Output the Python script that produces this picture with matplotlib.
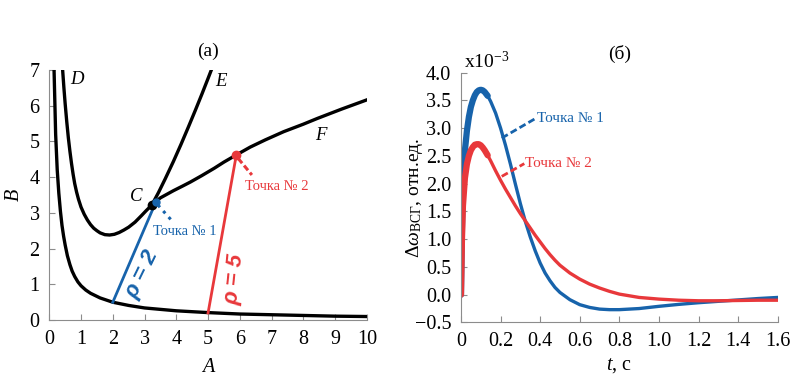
import numpy as np
import matplotlib
matplotlib.use("Agg")
import matplotlib.pyplot as plt

plt.rcParams['font.family'] = ['Liberation Serif', 'DejaVu Serif']
plt.rcParams['mathtext.fontset'] = 'custom'
plt.rcParams['mathtext.rm'] = 'Liberation Serif'
plt.rcParams['mathtext.it'] = 'Liberation Serif:italic'
plt.rcParams['font.size'] = 10.5

BLUE = '#1763ab'
RED = '#e8383b'
GREY = '#8c8c8c'

# === Panel (a): stability map in (A, B) ===
# lower curve (hyperbola)
A_low = [0.15, 0.2, 0.25, 0.3, 0.35, 0.4, 0.45, 0.5, 0.57, 0.65, 0.72, 0.8, 0.9, 1.0,
         1.15, 1.3, 1.6, 2.0, 2.5, 3.0, 4.0, 5.0, 6.0, 7.0, 8.0, 9.0, 10.0]
B_low = [7.0, 5.2, 4.2, 3.55, 3.05, 2.65, 2.35, 2.1, 1.8, 1.55, 1.37, 1.22, 1.07, 0.96,
         0.84, 0.75, 0.62, 0.5, 0.41, 0.34, 0.26, 0.21, 0.17, 0.15, 0.13, 0.11, 0.10]
# curve D -> C -> E
A_de = [0.42, 0.46, 0.5, 0.55, 0.6, 0.65, 0.7, 0.75, 0.8, 0.86, 0.92, 1.0, 1.1, 1.2, 1.3,
        1.4, 1.5, 1.6, 1.75, 1.9, 2.05, 2.2, 2.35, 2.5, 2.7, 2.9, 3.05, 3.23, 3.44,
        3.65, 3.91, 4.15, 4.38, 4.6, 4.81, 5.0, 5.1]
B_de = [7.0, 6.5, 6.05, 5.55, 5.1, 4.72, 4.38, 4.08, 3.82, 3.58, 3.38, 3.16, 2.96, 2.8, 2.67,
        2.57, 2.5, 2.44, 2.39, 2.38, 2.4, 2.45, 2.52, 2.6, 2.74, 2.92, 3.06, 3.22, 3.57,
        3.95, 4.44, 4.92, 5.40, 5.87, 6.33, 6.76, 6.99]
# curve C -> F
A_f = [3.23, 3.5, 3.91, 4.2, 4.44, 4.8, 5.2, 5.5, 5.89, 6.33, 6.8, 7.38, 8.0, 8.44, 9.2, 10.0]
B_f = [3.22, 3.42, 3.62, 3.75, 3.86, 4.04, 4.25, 4.42, 4.62, 4.84, 5.04, 5.27, 5.48, 5.64, 5.9, 6.16]

# rays rho = 2 and rho = 5
rho2_A = [2.0, 3.35]
rho2_B = [0.5, 3.29]
rho5_A = [5.0, 5.89]
rho5_B = [0.2, 4.62]
point_C = (3.23, 3.22)

# === Panel (б): time responses, x10^-3 ===
t = [0, 0.005, 0.01, 0.02, 0.03, 0.04, 0.05, 0.06, 0.07, 0.08, 0.09, 0.1, 0.11, 0.12,
     0.135, 0.15, 0.175, 0.2, 0.225, 0.25, 0.275, 0.3, 0.325, 0.35, 0.375, 0.4, 0.425,
     0.45, 0.475, 0.5, 0.55, 0.6, 0.65, 0.7, 0.75, 0.8, 0.9, 1.0, 1.1, 1.2, 1.3, 1.4,
     1.5, 1.6]
dw_p1 = [0, 1.2, 2.0, 2.6, 2.95, 3.2, 3.38, 3.5, 3.59, 3.65, 3.68, 3.69, 3.68, 3.65,
         3.58, 3.48, 3.27, 3.0, 2.69, 2.35, 1.99, 1.64, 1.32, 1.04, 0.79, 0.57, 0.39,
         0.25, 0.13, 0.04, -0.09, -0.18, -0.23, -0.26, -0.27, -0.27, -0.25, -0.21, -0.175,
         -0.145, -0.12, -0.095, -0.07, -0.05]
dw_p2 = [0, 1.0, 1.6, 2.1, 2.35, 2.5, 2.6, 2.66, 2.7, 2.71, 2.71, 2.69, 2.65, 2.6,
         2.51, 2.41, 2.23, 2.06, 1.9, 1.75, 1.6, 1.46, 1.33, 1.2, 1.07, 0.95, 0.83,
         0.72, 0.62, 0.53, 0.39, 0.28, 0.19, 0.12, 0.06, 0.01, -0.05, -0.08, -0.1,
         -0.11, -0.11, -0.105, -0.1, -0.1]
n_thick = 15  # early part of the response is drawn thicker

fig = plt.figure(figsize=(8.08, 3.88), dpi=100)
ax1 = fig.add_axes([0.061, 0.175, 0.393, 0.645])
ax2 = fig.add_axes([0.5705, 0.169, 0.392, 0.644])

for ax in (ax1, ax2):
    for s in ('top', 'right'):
        ax.spines[s].set_visible(False)
    for s in ('left', 'bottom'):
        ax.spines[s].set_color(GREY)
        ax.spines[s].set_linewidth(0.8)
    ax.tick_params(direction='in', length=4, color=GREY, labelsize=14.5, pad=7)

# --- panel (a)
ax1.plot(A_low, B_low, color='black', lw=2.4)
ax1.plot(A_de, B_de, color='black', lw=2.4)
ax1.plot(A_f, B_f, color='black', lw=2.4)
ax1.plot(rho2_A, rho2_B, color=BLUE, lw=2.0)
ax1.plot(rho5_A, rho5_B, color=RED, lw=2.0)
ax1.plot(*point_C, 'o', color='black', ms=6, zorder=5)
ax1.plot(rho2_A[1], rho2_B[1], 'o', color=BLUE, ms=5, zorder=6)
ax1.plot(rho5_A[1], rho5_B[1], 'o', color=RED, ms=6, zorder=6)
ax1.plot([3.42, 3.92], [3.22, 2.72], ls=':', color=BLUE, lw=2.2)
ax1.plot([5.95, 6.38], [4.52, 4.06], ls='--', color=RED, lw=2.2, dashes=(2, 1))

ax1.text(3.28, 2.47, 'Точка № 1', color=BLUE, fontsize=10.5, va='center')
ax1.text(6.17, 3.73, 'Точка № 2', color=RED, fontsize=10.5, va='center')
ax1.text(2.92, 1.28, 'ρ = 2', color=BLUE, fontsize=16, fontweight='bold', fontstyle='italic',
         family='Liberation Sans', rotation=64, ha='center', va='center')
ax1.text(5.85, 1.15, 'ρ = 5', color=RED, fontsize=16, fontweight='bold', fontstyle='italic',
         family='Liberation Sans', rotation=84, ha='center', va='center')
ax1.text(2.75, 3.45, 'C', fontsize=13.5, fontstyle='italic', ha='center', va='center')
ax1.text(0.88, 6.72, 'D', fontsize=13.5, fontstyle='italic', ha='center', va='center')
ax1.text(5.42, 6.67, 'E', fontsize=13.5, fontstyle='italic', ha='center', va='center')
ax1.text(8.55, 5.15, 'F', fontsize=13.5, fontstyle='italic', ha='center', va='center')

ax1.set_xlim(0, 10)
ax1.set_ylim(0, 7)
ax1.set_xticks(range(0, 11))
ax1.set_yticks(range(0, 8))
ax1.set_xlabel('A', fontsize=14.5, fontstyle='italic')
ax1.set_ylabel('B', fontsize=14.5, fontstyle='italic')
ax1.xaxis.set_label_coords(0.5, -0.15)
ax1.yaxis.set_label_coords(-0.08, 0.5)
ax1.set_title('(а)', fontsize=14, pad=10)

# --- panel (б)
ax2.plot(t, dw_p1, color=BLUE, lw=2.4)
ax2.plot(t[:n_thick], dw_p1[:n_thick], color=BLUE, lw=4.5, solid_capstyle='round')
ax2.plot(t, dw_p2, color=RED, lw=2.4)
ax2.plot(t[:n_thick], dw_p2[:n_thick], color=RED, lw=4.5, solid_capstyle='round')
ax2.plot([0.206, 0.375], [2.82, 3.17], ls='--', color=BLUE, lw=2.0, dashes=(2.5, 1.2))
ax2.plot([0.206, 0.32], [2.13, 2.36], ls='--', color=RED, lw=2.0, dashes=(2.5, 1.2))
ax2.text(0.383, 3.17, 'Точка № 1', color=BLUE, fontsize=11, va='center')
ax2.text(0.323, 2.36, 'Точка № 2', color=RED, fontsize=11, va='center')

ax2.set_xlim(0, 1.6)
ax2.set_ylim(-0.5, 4.0)
ax2.set_xticks(np.arange(0, 1.61, 0.2))
ax2.set_xticklabels(['0'] + [f'{v:.1f}' for v in np.arange(0.2, 1.61, 0.2)])
ax2.set_yticks(np.arange(-0.5, 4.01, 0.5))
ax2.set_yticklabels([f'{v:.1f}'.replace('-', '−') for v in np.arange(-0.5, 4.01, 0.5)])
ax2.set_xlabel('$t$, с', fontsize=14.5)
ax2.set_ylabel(r'$\mathit{Δω}_{\mathrm{ВСГ}}$, отн.ед.', fontsize=14)
ax2.xaxis.set_label_coords(0.5, -0.135)
ax2.yaxis.set_label_coords(-0.115, 0.5)
ax2.set_title('(б)', fontsize=14, pad=10)
ax2.text(0.01, 1.0, r'x10$^{-3}$', transform=ax2.transAxes, fontsize=14, va='bottom', ha='left')

fig.savefig('out.png', dpi=100)
